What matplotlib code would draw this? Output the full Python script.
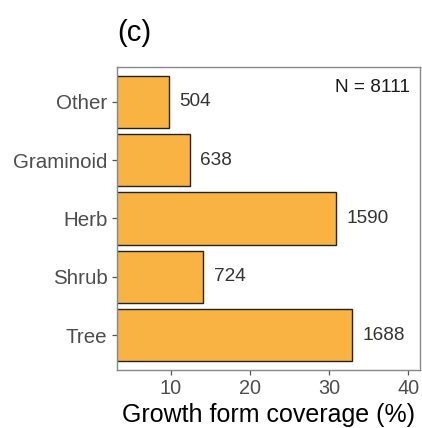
import matplotlib
matplotlib.use("Agg")
import matplotlib.pyplot as plt

plt.rcParams['font.family'] = ['Liberation Sans', 'DejaVu Sans']

# Growth forms, bottom to top
forms = ["Tree", "Shrub", "Herb", "Graminoid", "Other"]
coverage = [32.9, 14.1, 30.9, 12.4, 9.8]      # growth form coverage (%)
counts = [1688, 724, 1590, 638, 504]          # number of records
n_total = 8111
xticks = [10, 20, 30, 40]

fig = plt.figure(figsize=(4.22, 4.28), dpi=100)
ax = fig.add_axes([0.2784, 0.1355, 0.7157, 0.708])

ypos = list(range(len(forms)))
ax.barh(ypos, coverage, height=0.9, left=0, color="#F8B343",
        edgecolor="#222222", linewidth=1.0, zorder=2)

for y, v, c in zip(ypos, coverage, counts):
    ax.annotate(f"{c}", xy=(v, y), xytext=(7.5, 0), textcoords="offset points",
                ha="left", va="center", fontsize=13.7, color="#333333")

ax.text(0.9685, 0.9165, f"N = {n_total}", transform=ax.transAxes,
        ha="right", va="baseline", fontsize=13.7, color="#1a1a1a")

ax.set_xlim(3.28, 41.4)
ax.set_ylim(-0.6, len(forms) - 0.4)
ax.set_yticks(ypos)
ax.set_yticklabels(forms)
ax.set_xticks(xticks)
ax.tick_params(axis="both", labelsize=14.3, labelcolor="#4D4D4D",
               color="#555555", length=3.8, width=0.9, pad=2.5)
ax.tick_params(axis="y", labelsize=14.8, pad=3.5)

for side in ax.spines.values():
    side.set_color("#888888")
    side.set_linewidth(1.0)

fig.text(268.5 / 422, 1 - 422.0 / 428, "Growth form coverage (%)",
         ha="center", va="baseline", fontsize=18, color="black")
fig.text(117 / 422, 1 - 41.4 / 428, "(c)", ha="left", va="baseline",
         fontsize=21, color="black")

fig.savefig("out.png", dpi=100)
